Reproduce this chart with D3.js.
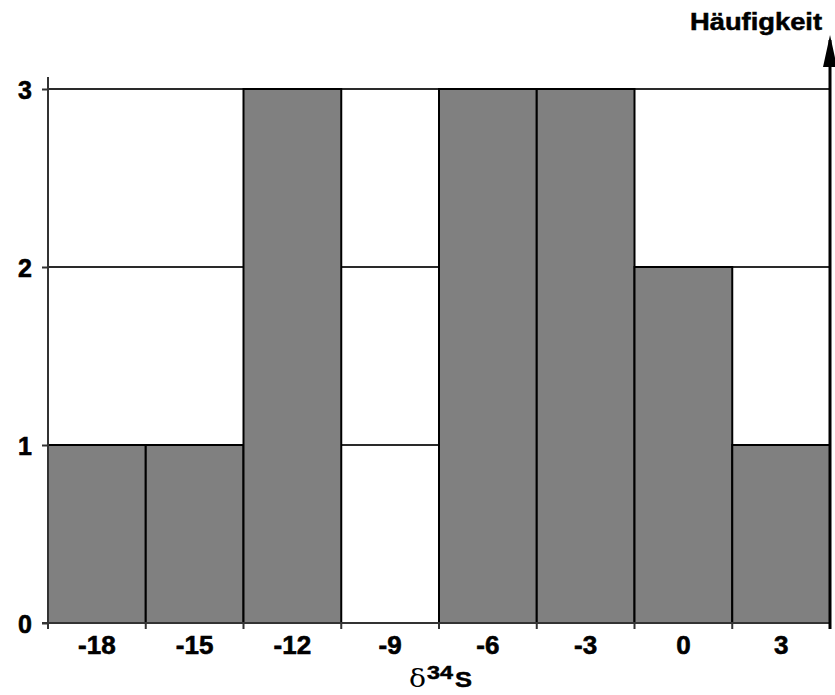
<!DOCTYPE html>
<html>
<head>
<meta charset="utf-8">
<script src="https://cdn.jsdelivr.net/npm/d3@7"></script>
<style>
  html, body { margin: 0; padding: 0; background: #fff; }
  svg { display: block; }
  text { fill: #000; }
</style>
</head>
<body>
<svg id="chart" width="835" height="695"></svg>
<script>
// Histogram of δ34S values: bin centres and counts
const categories = ["-18", "-15", "-12", "-9", "-6", "-3", "0", "3"];
const counts = [1, 1, 3, 0, 3, 3, 2, 1];
const yTicks = [0, 1, 2, 3];
const gridValues = [1, 2, 3];
const yTitle = "Häufigkeit";

const sans = "'Liberation Sans', Arial, Helvetica, sans-serif";
const serif = "'DejaVu Serif', 'Liberation Serif', serif";

const svg = d3.select("#chart");
const left = 48, right = 830, bottom = 623, top3 = 89;

const x = d3.scaleBand().domain(categories).range([left, right]).padding(0);
const y = d3.scaleLinear().domain([0, 3]).range([bottom, top3]);

// horizontal grid lines (drawn beneath the bars)
svg.append("g").selectAll("line").data(gridValues).join("line")
  .attr("x1", left).attr("x2", right)
  .attr("y1", d => y(d)).attr("y2", d => y(d))
  .attr("stroke", "#2a2a2a").attr("stroke-width", 2);

// bars
svg.append("g").selectAll("rect").data(categories).join("rect")
  .attr("x", d => x(d))
  .attr("width", x.bandwidth())
  .attr("y", (d, i) => y(counts[i]))
  .attr("height", (d, i) => y(0) - y(counts[i]))
  .attr("fill", "#808080")
  .attr("stroke", "#000")
  .attr("stroke-width", 2);

// y axis
const yAxis = svg.append("g").attr("transform", `translate(${left},0)`)
  .call(d3.axisLeft(y).tickValues(yTicks).tickFormat(d3.format("d")).tickSize(6).tickPadding(10));
yAxis.select(".domain").remove();
yAxis.selectAll(".tick line").attr("stroke", "#333").attr("stroke-width", 2);
yAxis.selectAll(".tick text")
  .style("font-family", sans).style("font-weight", "bold").style("font-size", "25px")
  .attr("dy", "0.36em").attr("fill", "#000")
  .attr("stroke", "#000").attr("stroke-width", 0.6);
svg.append("line").attr("x1", left).attr("x2", left).attr("y1", 77).attr("y2", bottom + 1)
  .attr("stroke", "#333").attr("stroke-width", 2);

// x axis: labels at bin centres, ticks at bin edges
const xAxis = svg.append("g").attr("transform", `translate(0,${bottom})`)
  .call(d3.axisBottom(x).tickSize(0).tickPadding(13));
xAxis.select(".domain").remove();
xAxis.selectAll(".tick text")
  .style("font-family", sans).style("font-weight", "bold").style("font-size", "26px")
  .attr("dy", "0.71em").attr("fill", "#000")
  .attr("stroke", "#000").attr("stroke-width", 0.6);
svg.append("line").attr("x1", left - 6).attr("x2", right).attr("y1", bottom).attr("y2", bottom)
  .attr("stroke", "#333").attr("stroke-width", 2);
const edges = categories.map(c => x(c)).concat([x(categories[categories.length - 1]) + x.bandwidth()]);
svg.append("g").selectAll("line").data(edges).join("line")
  .attr("x1", d => d).attr("x2", d => d)
  .attr("y1", bottom).attr("y2", bottom + 6)
  .attr("stroke", "#333").attr("stroke-width", 2);

// frequency arrow on the right
svg.append("line")
  .attr("x1", right).attr("x2", right)
  .attr("y1", bottom + 6).attr("y2", 40)
  .attr("stroke", "#000").attr("stroke-width", 3);
svg.append("path")
  .attr("d", `M${right - 7},67 L${right},35 L${right + 7},67 Z`)
  .attr("fill", "#000");

svg.append("text")
  .attr("x", 690).attr("y", 30)
  .style("font-family", sans).style("font-weight", "bold").style("font-size", "23px")
  .attr("stroke", "#000").attr("stroke-width", 0.5)
  .attr("textLength", 132).attr("lengthAdjust", "spacingAndGlyphs")
  .text(yTitle);

// x axis title: δ34S
svg.append("text").attr("x", 409).attr("y", 687)
  .style("font-family", serif).style("font-weight", "normal").style("font-size", "25px")
  .attr("textLength", 17).attr("lengthAdjust", "spacingAndGlyphs").text("δ");
svg.append("text").attr("x", 427).attr("y", 679)
  .style("font-family", sans).style("font-weight", "bold").style("font-size", "19px")
  .attr("stroke", "#000").attr("stroke-width", 0.5)
  .attr("textLength", 26).attr("lengthAdjust", "spacingAndGlyphs").text("34");
svg.append("text").attr("x", 455).attr("y", 687)
  .style("font-family", sans).style("font-weight", "bold").style("font-size", "22px")
  .attr("stroke", "#000").attr("stroke-width", 0.5)
  .attr("textLength", 17).attr("lengthAdjust", "spacingAndGlyphs").text("S");
</script>
</body>
</html>
